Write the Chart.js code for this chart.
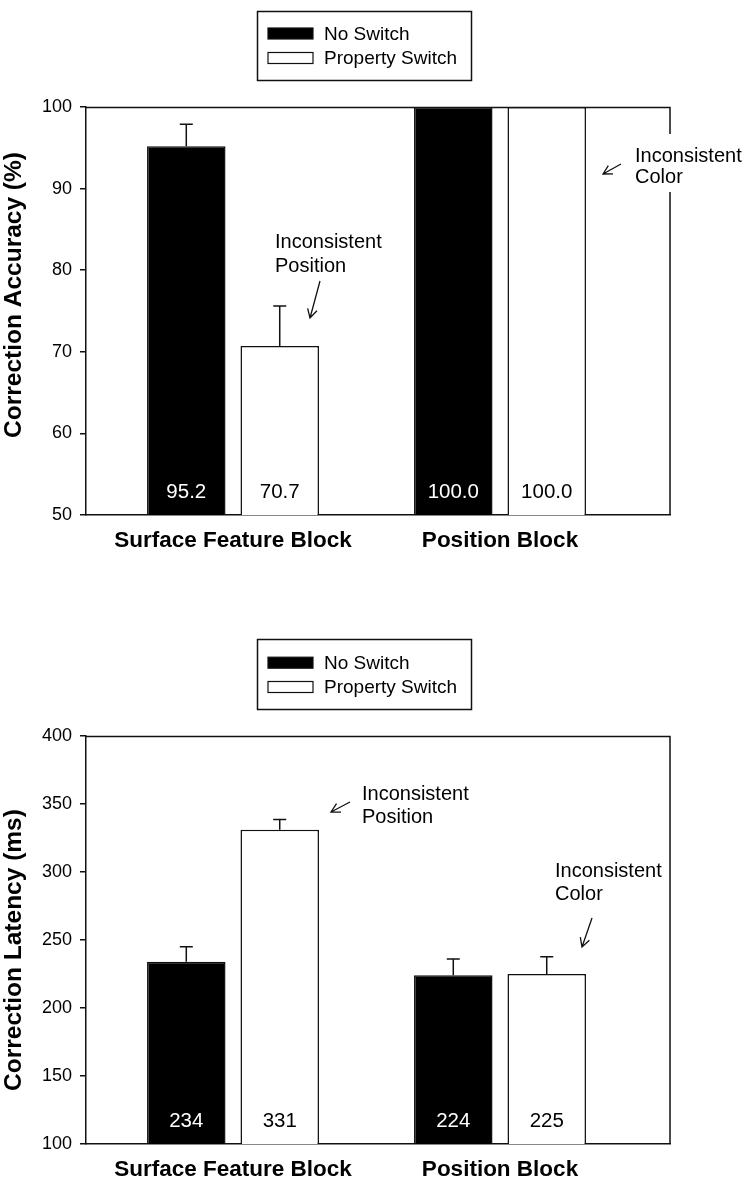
<!DOCTYPE html>
<html><head><meta charset="utf-8">
<script src="https://cdn.jsdelivr.net/npm/chart.js@4.4.1/dist/chart.umd.min.js"></script>
<style>
html,body{margin:0;padding:0;background:#fff;}
#wrap{position:relative;width:750px;height:1193px;background:#fff;}
#c1{position:absolute;left:0;top:0;}
#c2{position:absolute;left:0;top:629px;}
</style></head><body>
<div id="wrap">
<canvas id="c1" width="750" height="600"></canvas>
<canvas id="c2" width="750" height="564"></canvas>
</div>
<script>
// ---- data ----
const categories = ['Surface Feature Block', 'Position Block'];
const groupPositions = [1, 2];
const seriesNames = ['No Switch', 'Property Switch'];

const accuracyNoSwitch = [95.2, 100.0];
const accuracyPropertySwitch = [70.7, 100.0];
const accuracyNoSwitchErr = [2.7, 0];
const accuracyPropertySwitchErr = [4.9, 0];
const accuracyTicks = [50, 60, 70, 80, 90, 100];

const latencyNoSwitch = [234, 224];
const latencyPropertySwitch = [331, 225];
const latencyNoSwitchErr = [11, 12];
const latencyPropertySwitchErr = [7.6, 12.6];
const latencyTicks = [100, 150, 200, 250, 300, 350, 400];

const FONT = '"Liberation Sans", Arial, Helvetica, sans-serif';
const INK = '#111';

function arrow(ctx, x1, y1, x2, y2) {
  const a = Math.atan2(y2 - y1, x2 - x1), L = 10, w = 0.5;
  ctx.beginPath();
  ctx.moveTo(x1, y1); ctx.lineTo(x2, y2);
  ctx.moveTo(x2 - L * Math.cos(a - w), y2 - L * Math.sin(a - w));
  ctx.lineTo(x2, y2);
  ctx.lineTo(x2 - L * Math.cos(a + w), y2 - L * Math.sin(a + w));
  ctx.stroke();
}

const decorPlugin = {
  id: 'decor',
  afterDatasetsDraw(chart) {
    const ctx = chart.ctx, y = chart.scales.y, deco = chart.options.plugins.decor;
    ctx.save();
    chart.data.datasets.forEach((ds, di) => {
      const meta = chart.getDatasetMeta(di);
      meta.data.forEach((el, i) => {
        const v = ds.data[i].y, e = ds.errors[i];
        // error bar
        if (e > 0) {
          const yt = y.getPixelForValue(v + e);
          ctx.strokeStyle = INK; ctx.lineWidth = 1.5;
          ctx.beginPath();
          ctx.moveTo(el.x, el.y); ctx.lineTo(el.x, yt);
          ctx.moveTo(el.x - 6.5, yt); ctx.lineTo(el.x + 6.5, yt);
          ctx.stroke();
        }
        // value label
        ctx.fillStyle = ds.textColor;
        ctx.font = '20.5px ' + FONT;
        ctx.textAlign = 'center'; ctx.textBaseline = 'alphabetic';
        ctx.fillText(v.toFixed(deco.decimals), el.x, y.getPixelForValue(y.min) - 17);
      });
    });
    ctx.restore();
  },
  afterDraw(chart) {
    const ctx = chart.ctx, ca = chart.chartArea, deco = chart.options.plugins.decor;
    ctx.save();
    // frame top + right
    ctx.strokeStyle = INK; ctx.lineWidth = 1.5;
    ctx.beginPath();
    ctx.moveTo(ca.left, ca.top + 0.5); ctx.lineTo(ca.right, ca.top + 0.5); ctx.lineTo(ca.right, ca.bottom);
    ctx.stroke();
    // y title
    ctx.save();
    ctx.translate(14, deco.titleY);
    ctx.rotate(-Math.PI / 2);
    ctx.fillStyle = '#000';
    ctx.font = 'bold 24.5px ' + FONT;
    ctx.textAlign = 'center'; ctx.textBaseline = 'middle';
    ctx.fillText(deco.yTitle, 0, 0);
    ctx.restore();
    // legend
    const lg = deco.legend;
    ctx.strokeStyle = INK; ctx.lineWidth = 1.5;
    ctx.strokeRect(lg.x, lg.y, lg.w, lg.h);
    chart.data.datasets.forEach((ds, i) => {
      const cy = lg.rows[i];
      ctx.fillStyle = ds.backgroundColor;
      ctx.fillRect(268, cy - 5.5, 45, 11);
      ctx.strokeStyle = INK; ctx.lineWidth = 1.2;
      ctx.strokeRect(268, cy - 5.5, 45, 11);
      ctx.fillStyle = '#000';
      ctx.font = '19px ' + FONT;
      ctx.textAlign = 'left'; ctx.textBaseline = 'middle';
      ctx.fillText(ds.label, 324, cy + 1);
    });
    // annotations
    deco.notes.forEach(n => {
      ctx.font = '20px ' + FONT;
      if (n.bg) { ctx.fillStyle = '#fff'; ctx.fillRect(n.bg[0], n.bg[1], n.bg[2], n.bg[3]); }
      ctx.fillStyle = '#000';
      ctx.textAlign = 'left'; ctx.textBaseline = 'alphabetic';
      n.lines.forEach((t, k) => ctx.fillText(t, n.x, n.base[k]));
      ctx.strokeStyle = INK; ctx.lineWidth = 1.3;
      arrow(ctx, n.arrow[0], n.arrow[1], n.arrow[2], n.arrow[3]);
    });
    ctx.restore();
  }
};

function makeChart(canvas, cfg) {
  const datasets = [
    { label: seriesNames[0], data: groupPositions.map((x, i) => ({ x, y: cfg.a[i] })), errors: cfg.aErr,
      backgroundColor: '#000', borderColor: INK, borderWidth: 1.5, textColor: '#fff' },
    { label: seriesNames[1], data: groupPositions.map((x, i) => ({ x, y: cfg.b[i] })), errors: cfg.bErr,
      backgroundColor: '#fff', borderColor: INK, borderWidth: 1.5, textColor: '#000' }
  ];
  return new Chart(canvas, {
    type: 'bar',
    data: { datasets },
    options: {
      responsive: false, animation: false,
      layout: { padding: { top: 107, right: 80, left: 0, bottom: canvas.height - 555 } },
      datasets: { bar: { categoryPercentage: 0.7, barPercentage: 0.84, borderSkipped: 'start' } },
      plugins: {
        legend: { display: false }, tooltip: { enabled: false },
        decor: cfg.decor
      },
      scales: {
        x: {
          type: 'linear', min: 0.4494, max: 2.6367, offset: false,
          afterBuildTicks: s => { s.ticks = groupPositions.map(v => ({ value: v })); },
          afterFit: s => { s.height = 40; },
          grid: { display: false, drawTicks: false },
          border: { display: true, color: INK, width: 1.5 },
          ticks: { callback: (v, i) => categories[i], font: { family: FONT, size: 22.5, weight: 'bold' },
                   color: '#000', padding: 12, maxRotation: 0, autoSkip: false }
        },
        y: {
          min: cfg.ticks[0], max: cfg.ticks[cfg.ticks.length - 1],
          afterBuildTicks: s => { s.ticks = cfg.ticks.map(v => ({ value: v })); },
          afterFit: s => { s.width = 86; },
          grid: { drawOnChartArea: false, drawTicks: true, tickLength: 6, color: INK, lineWidth: 1.5 },
          border: { display: true, color: INK, width: 1.5 },
          ticks: { font: { family: FONT, size: 18 }, color: '#000', padding: 8 }
        }
      }
    },
    plugins: [decorPlugin]
  });
}

makeChart(document.getElementById('c1'), {
  a: accuracyNoSwitch, b: accuracyPropertySwitch, aErr: accuracyNoSwitchErr, bErr: accuracyPropertySwitchErr,
  ticks: accuracyTicks,
  decor: {
    decimals: 1, yTitle: 'Correction Accuracy (%)', titleY: 295,
    legend: { x: 257.5, y: 11.5, w: 214, h: 69, rows: [33.5, 58] },
    notes: [
      { lines: ['Inconsistent', 'Position'], x: 275, base: [248.3, 271.7], arrow: [320, 281, 310, 318] },
      { lines: ['Inconsistent', 'Color'], x: 635, base: [161.7, 183.3], arrow: [621, 164, 603, 174], bg: [628, 134, 120, 58] }
    ]
  }
});

makeChart(document.getElementById('c2'), {
  a: latencyNoSwitch, b: latencyPropertySwitch, aErr: latencyNoSwitchErr, bErr: latencyPropertySwitchErr,
  ticks: latencyTicks,
  decor: {
    decimals: 0, yTitle: 'Correction Latency (ms)', titleY: 321,
    legend: { x: 257.5, y: 10.5, w: 214, h: 70, rows: [33.7, 58] },
    notes: [
      { lines: ['Inconsistent', 'Position'], x: 362, base: [171, 194.3], arrow: [350, 173, 331, 183] },
      { lines: ['Inconsistent', 'Color'], x: 555, base: [247.7, 271], arrow: [592, 289, 582, 318] }
    ]
  }
});
</script>
</body></html>
